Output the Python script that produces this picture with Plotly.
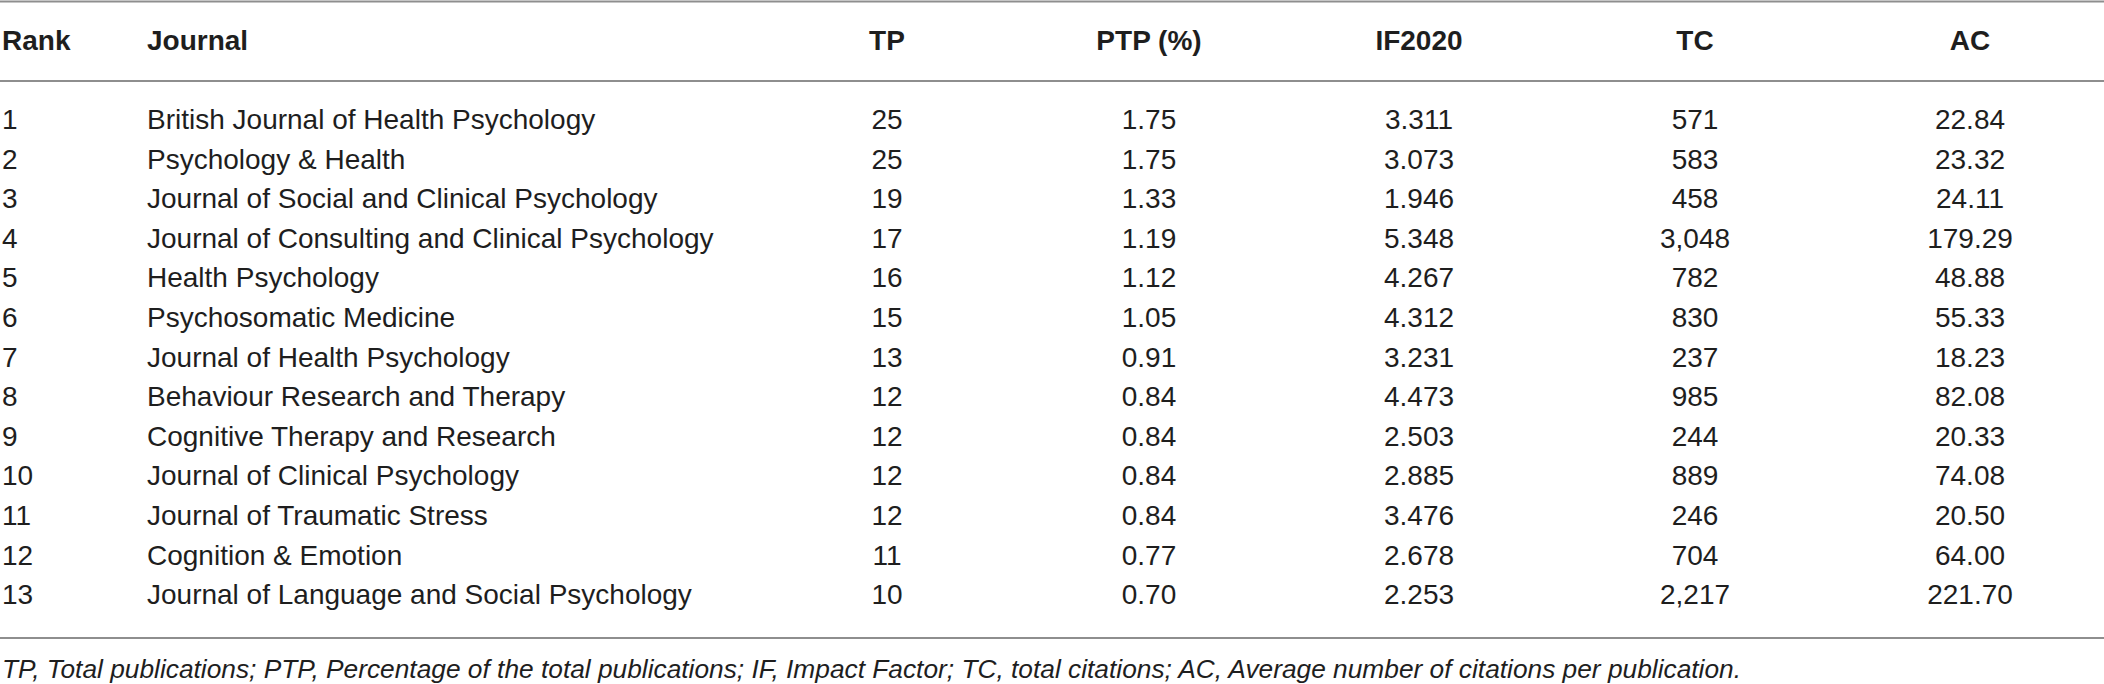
import plotly.graph_objects as go

# table data
ranks = list(range(1, 14))
journals = [
    "British Journal of Health Psychology",
    "Psychology & Health",
    "Journal of Social and Clinical Psychology",
    "Journal of Consulting and Clinical Psychology",
    "Health Psychology",
    "Psychosomatic Medicine",
    "Journal of Health Psychology",
    "Behaviour Research and Therapy",
    "Cognitive Therapy and Research",
    "Journal of Clinical Psychology",
    "Journal of Traumatic Stress",
    "Cognition & Emotion",
    "Journal of Language and Social Psychology",
]
tp = [25, 25, 19, 17, 16, 15, 13, 12, 12, 12, 12, 11, 10]
ptp = [1.75, 1.75, 1.33, 1.19, 1.12, 1.05, 0.91, 0.84, 0.84, 0.84, 0.84, 0.77, 0.70]
if2020 = [3.311, 3.073, 1.946, 5.348, 4.267, 4.312, 3.231, 4.473, 2.503, 2.885, 3.476, 2.678, 2.253]
tc = [571, 583, 458, 3048, 782, 830, 237, 985, 244, 889, 246, 704, 2217]
ac = [22.84, 23.32, 24.11, 179.29, 48.88, 55.33, 18.23, 82.08, 20.33, 74.08, 20.50, 64.00, 221.70]

headers = ["Rank", "Journal", "TP", "PTP (%)", "IF2020", "TC", "AC"]
footnote = ("TP, Total publications; PTP, Percentage of the total publications; "
            "IF, Impact Factor; TC, total citations; AC, Average number of citations per publication.")

W, H = 2104, 684
FONT = "Liberation Sans, Arial, Helvetica, sans-serif"
INK = "#1e1e1e"
RULE = "#8e8e8e"

# layout in page pixels
col_x = [2, 147, 887, 1149, 1419, 1695, 1970]
col_pos = ["middle right", "middle right"] + ["middle center"] * 5
header_y = 43
row0_y = 122
row_step = 39.6
rules_y = [1.5, 81, 638]
foot_y = 671

columns = [
    [str(r) for r in ranks],
    journals,
    [str(v) for v in tp],
    [f"{v:.2f}" for v in ptp],
    [f"{v:.3f}" for v in if2020],
    [f"{v:,}" for v in tc],
    [f"{v:.2f}" for v in ac],
]
row_y = [row0_y + i * row_step for i in range(len(ranks))]

fig = go.Figure()

# header row
for x, pos, h in zip(col_x, col_pos, headers):
    fig.add_trace(go.Scatter(
        x=[x], y=[header_y], mode="text", text=[f"<b>{h}</b>"],
        textposition=pos, textfont=dict(family=FONT, size=28, color=INK),
        hoverinfo="skip", showlegend=False,
    ))

# body columns
for x, pos, vals in zip(col_x, col_pos, columns):
    fig.add_trace(go.Scatter(
        x=[x] * len(vals), y=row_y, mode="text", text=vals,
        textposition=pos, textfont=dict(family=FONT, size=28, color=INK),
        hoverinfo="skip", showlegend=False,
    ))

# footnote
fig.add_trace(go.Scatter(
    x=[2], y=[foot_y], mode="text", text=[f"<i>{footnote}</i>"],
    textposition="middle right", textfont=dict(family=FONT, size=26.3, color=INK),
    hoverinfo="skip", showlegend=False,
))

# horizontal rules
for y in rules_y:
    fig.add_shape(type="line", x0=0, x1=W, y0=y, y1=y,
                  line=dict(color=RULE, width=2))

fig.update_xaxes(range=[0, W], visible=False, fixedrange=True)
fig.update_yaxes(range=[H, 0], visible=False, fixedrange=True)
fig.update_layout(
    width=W, height=H,
    margin=dict(l=0, r=0, t=0, b=0),
    paper_bgcolor="white", plot_bgcolor="white",
)

fig.write_html("out.html", config={"displayModeBar": False},
               post_script="document.body.style.margin='0px';")
